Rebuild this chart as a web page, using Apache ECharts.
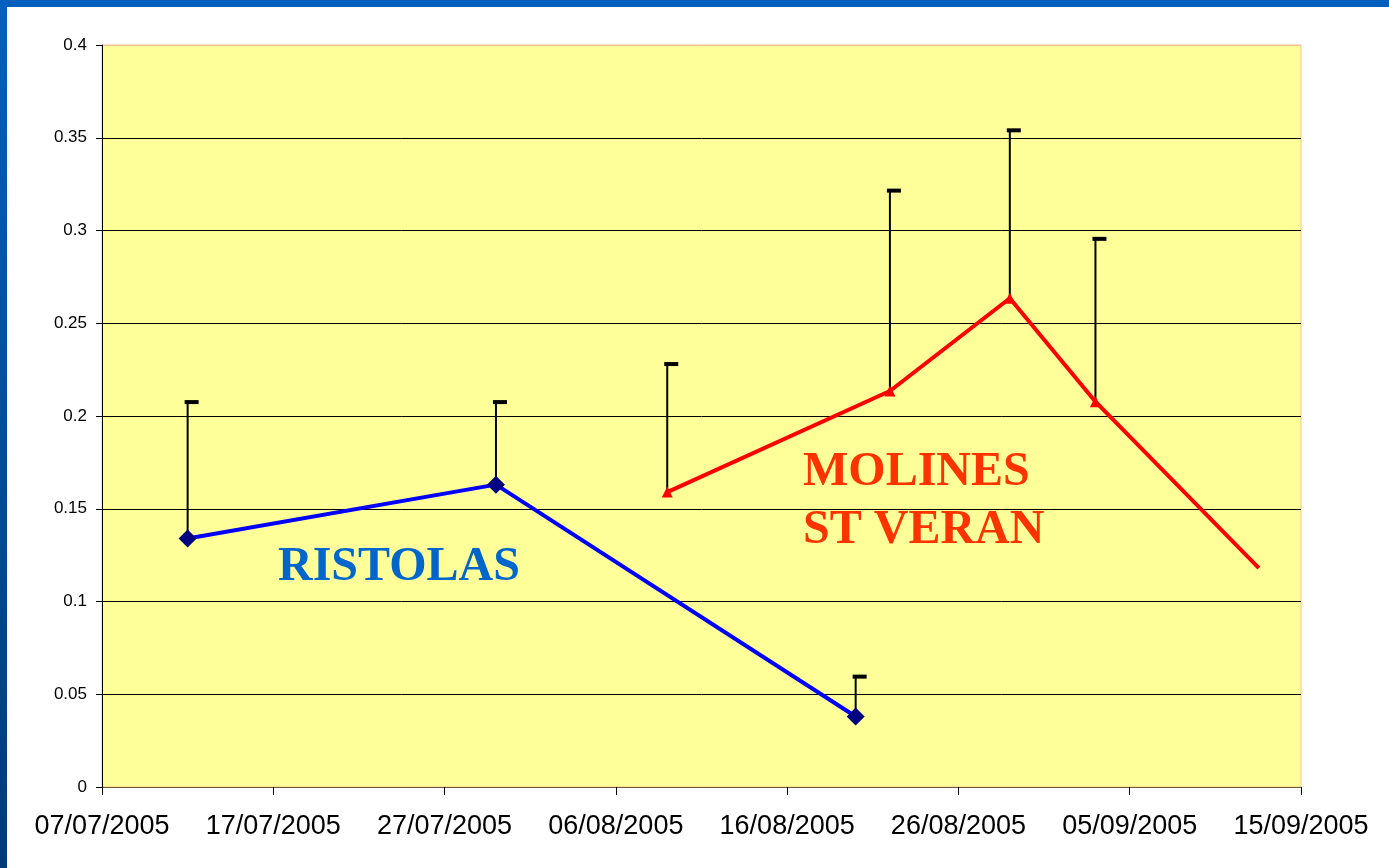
<!DOCTYPE html>
<html><head><meta charset="utf-8">
<script src="https://cdn.jsdelivr.net/npm/echarts@6/dist/echarts.min.js"></script>
<style>
html,body{margin:0;padding:0;background:#fff;overflow:hidden;}
#chart{position:absolute;left:0;top:0;width:1389px;height:868px;}
#frameTop{position:absolute;left:0;top:0;width:1389px;height:7px;background:#005EBD;}
#frameLeft{position:absolute;left:0;top:0;width:7px;height:868px;background:linear-gradient(#0060C0,#003B78);}
</style></head><body>
<div id="chart"></div><div id="frameTop"></div><div id="frameLeft"></div>
<script>
// ---- data ----
const axisStartDate = '07/07/2005';
const xTickLabels = ['07/07/2005','17/07/2005','27/07/2005','06/08/2005','16/08/2005','26/08/2005','05/09/2005','15/09/2005'];
const yTickValues = [0, 0.05, 0.1, 0.15, 0.2, 0.25, 0.3, 0.35, 0.4];

const ristolasName = 'RISTOLAS';
const ristolasDates = ['12/07/2005','30/07/2005','20/08/2005'];
const ristolasValues = [0.134, 0.163, 0.038];
const ristolasErrHigh = [0.2075, 0.2075, 0.0595];

const molinesName = 'MOLINES ST VERAN';
const molinesDates = ['09/08/2005','22/08/2005','29/08/2005','03/09/2005','12/09/2005 13:00'];
const molinesValues = [0.159, 0.2135, 0.2635, 0.2077, 0.118];
const molinesErrHigh = [0.228, 0.3215, 0.354, 0.2955, null];

// ---- helpers ----
function toMs(s){
  const parts = s.split(' ');
  const [dd,mm,yy] = parts[0].split('/').map(Number);
  let ms = Date.UTC(yy, mm-1, dd);
  if (parts[1]) { const [h,mi] = parts[1].split(':').map(Number); ms += (h*60+mi)*60000; }
  return ms;
}
const base = toMs(axisStartDate);
const dayOf = s => (toMs(s) - base) / 86400000;

const ristolasData = ristolasDates.map((d,i)=>[dayOf(d), ristolasValues[i]]);
const molinesData = molinesDates.map((d,i)=>{
  const item = {value:[dayOf(d), molinesValues[i]]};
  if (molinesErrHigh[i] == null) item.symbol = 'none';
  return item;
});
const errData = [];
ristolasDates.forEach((d,i)=>{ if (ristolasErrHigh[i]!=null) errData.push([dayOf(d), ristolasValues[i], ristolasErrHigh[i]]); });
molinesDates.forEach((d,i)=>{ if (molinesErrHigh[i]!=null) errData.push([dayOf(d), molinesValues[i], molinesErrHigh[i]]); });

function errRender(params, api){
  const x = api.value(0), v = api.value(1), hi = api.value(2);
  const p = api.coord([x, v]), t = api.coord([x, hi]);
  return {type:'group', children:[
    {type:'line', shape:{x1:p[0], y1:p[1], x2:t[0], y2:t[1]+1}, style:{stroke:'#000', lineWidth:2}},
    {type:'line', shape:{x1:t[0]-3, y1:t[1], x2:t[0]+11, y2:t[1]}, style:{stroke:'#000', lineWidth:4}}
  ]};
}

const splitColors = yTickValues.map((v,i)=> i===0 ? '#6b5b3e' : (i===yTickValues.length-1 ? '#F5C38F' : '#000000'));

const chart = echarts.init(document.getElementById('chart'), null, {renderer:'canvas'});
chart.setOption({
  animation:false,
  backgroundColor:'#ffffff',
  grid:{left:102, right:88, top:45, bottom:81, show:true, backgroundColor:'#FFFF99', borderColor:'#F5C38F', borderWidth:1},
  xAxis:{
    type:'value', min:0, max:70, interval:10,
    axisLine:{show:true, onZero:false, lineStyle:{color:'#6b5b3e', width:1}},
    axisTick:{show:true, length:8, lineStyle:{color:'#000'}},
    axisLabel:{fontSize:27, color:'#000', fontFamily:'"Liberation Sans", Arial, sans-serif', margin:26,
      formatter:v=>xTickLabels[Math.round(v/10)]},
    splitLine:{show:false}
  },
  yAxis:{
    type:'value', min:0, max:0.4, interval:0.05,
    axisLine:{show:true, lineStyle:{color:'#000', width:1}},
    axisTick:{show:true, length:6, lineStyle:{color:'#000'}},
    axisLabel:{fontSize:17, color:'#000', fontFamily:'"Liberation Sans", Arial, sans-serif', margin:15,
      formatter:v=>String(Math.round(v*100)/100)},
    splitLine:{show:true, lineStyle:{color:splitColors, width:1}}
  },
  series:[
    {type:'custom', name:'err', renderItem:errRender, data:errData, z:1, encode:{x:0, y:[1,2]}},
    {type:'line', name:ristolasName, data:ristolasData, symbol:'diamond', symbolSize:18,
      itemStyle:{color:'#000080'}, lineStyle:{color:'#0000FF', width:4}, z:3},
    {type:'line', name:molinesName, data:molinesData, symbol:'triangle', symbolSize:11,
      itemStyle:{color:'#FF0000'}, lineStyle:{color:'#FF0000', width:4}, z:3}
  ],
  graphic:[
    {type:'text', x:278, y:568, z:10, style:{text:'RISTOLAS', fontSize:48, fontWeight:'bold', fontFamily:'"Liberation Serif", "Times New Roman", serif', fill:'#0066CC', verticalAlign:'middle', align:'left'}},
    {type:'text', x:803, y:473, z:10, style:{text:'MOLINES', fontSize:48, fontWeight:'bold', fontFamily:'"Liberation Serif", "Times New Roman", serif', fill:'#FF3300', verticalAlign:'middle', align:'left'}},
    {type:'text', x:803, y:531, z:10, style:{text:'ST VERAN', fontSize:48, fontWeight:'bold', fontFamily:'"Liberation Serif", "Times New Roman", serif', fill:'#FF3300', verticalAlign:'middle', align:'left'}}
  ]
});
</script>
</body></html>
